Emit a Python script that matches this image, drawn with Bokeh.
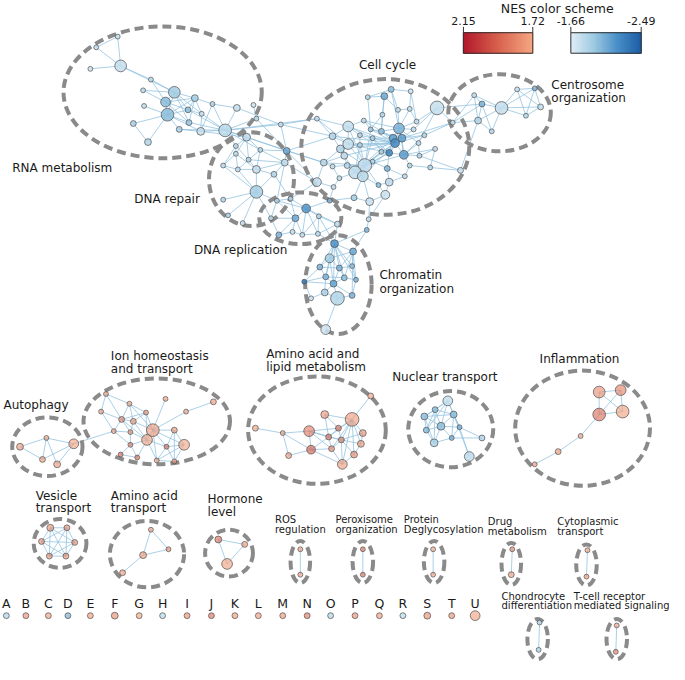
import numpy as np
from bokeh.plotting import figure
from bokeh.models import Range1d
from bokeh.embed import file_html
from bokeh.resources import INLINE
from bokeh.core.properties import value

FONT = "DejaVu Sans"

# ---------------- NES colour scale ----------------
red_nes_range = [2.15, 1.72]
blue_nes_range = [-1.66, -2.49]
red_stops = ["#f4a582", "#d6604d", "#b2182b"]          # 1.72 -> 2.15
blue_stops = ["#e1edf7", "#9ecae1", "#4a90c8", "#1f5fa6"]  # -1.66 -> -2.49

# ---------------- network nodes: (x, y, radius, NES) ----------------
rna_nodes = [
    (120, 37, 2.5, -1.78), (98, 48, 2.5, -1.8), (123, 67, 6, -1.78), (92, 70, 2.5, -1.75),
    (154, 81, 2.5, -1.82), (146, 92, 2.5, -1.82), (178, 94, 6, -1.92), (169, 104, 5, -2.0),
    (147, 108, 2.5, -1.78), (171, 117, 6.5, -2.0), (199, 100, 3.5, -1.9), (192, 112, 3, -2.0),
    (206, 116, 2.5, -1.78), (217, 106, 2.5, -1.85), (193, 125, 3, -1.95), (183, 132, 3, -1.9),
    (205, 134, 4, -1.78), (136, 126, 3, -1.9), (151, 145, 3.5, -1.85), (230, 133, 6.5, -1.82),
    (242, 110, 3.5, -1.78), (259, 107, 2.5, -1.75), (262, 121, 2.5, -1.85), (287, 127, 2.5, -1.8),
]
rna_edges = [(0, 1), (0, 2), (1, 2), (2, 3), (2, 4), (2, 6), (4, 6), (5, 6), (5, 7), (4, 7), (6, 7),
             (6, 9), (7, 9), (8, 9), (6, 10), (7, 10), (9, 10), (6, 11), (7, 11), (9, 11), (10, 11),
             (10, 12), (11, 12), (9, 14), (9, 15), (7, 14), (6, 12), (10, 13), (13, 19), (12, 19),
             (11, 19), (14, 19), (15, 16), (16, 19), (9, 16), (15, 19), (17, 9), (17, 18), (9, 18),
             (10, 14), (13, 20), (19, 20), (20, 23), (19, 22), (21, 22), (19, 23), (13, 16),
             (12, 16), (6, 14)]

rep_nodes = [
    (252, 140, 4, -1.8), (241, 149, 2.5, -1.82), (266, 153, 2.5, -1.85), (241, 157, 2.5, -1.82),
    (254, 163, 2.5, -1.85), (243, 173, 2.5, -1.8), (262, 173, 4, -1.78), (228, 169, 2.5, -1.8),
    (280, 178, 3, -1.85), (291, 166, 3.5, -1.8), (293, 154, 3.5, -2.1), (262, 196, 6.5, -1.9),
    (228, 204, 2.5, -1.85), (233, 220, 2.5, -1.9), (248, 228, 2.5, -1.78),
]
rep_edges = [(0, 1), (0, 2), (0, 3), (0, 4), (1, 3), (1, 4), (2, 4), (2, 6), (3, 5), (3, 7), (4, 6),
             (4, 5), (5, 6), (6, 8), (6, 9), (2, 10), (0, 10), (4, 9), (8, 11), (6, 11), (5, 11),
             (7, 11), (11, 12), (11, 13), (11, 14), (9, 10), (2, 9), (3, 6), (1, 7), (8, 9), (5, 7)]

repl_nodes = [
    (313, 213, 4.5, -2.2), (302, 223, 3.5, -2.1), (326, 221, 2.5, -1.85), (283, 205, 2.5, -1.9),
    (277, 223, 2.5, -1.85), (297, 203, 2.5, -1.85), (299, 237, 2.5, -1.75), (309, 240, 2.5, -1.8),
    (325, 239, 2.5, -1.8), (285, 240, 3, -2.05), (345, 229, 3, -1.78), (337, 205, 2.5, -2.05),
]
repl_edges = [(0, 1), (0, 2), (0, 3), (0, 5), (0, 7), (0, 8), (1, 3), (1, 4), (1, 6), (1, 9), (1, 7),
              (2, 8), (2, 10), (0, 11), (3, 5), (4, 9), (6, 7), (7, 8), (2, 7), (0, 10), (3, 4),
              (1, 5), (8, 10), (6, 9)]

chrom_nodes = [
    (342, 249, 4, -2.2), (361, 257, 3.5, -2.1), (337, 264, 4.5, -1.92), (327, 273, 3, -2.05),
    (347, 274, 3, -2.05), (360, 272, 2.5, -2.0), (333, 283, 3, -2.05), (352, 284, 3, -2.0),
    (364, 286, 2.5, -2.05), (311, 288, 2.5, -2.35), (341, 290, 3.5, -2.12), (332, 299, 3.5, -1.88),
    (345, 305, 7, -1.85), (360, 302, 3, -2.05), (318, 305, 2.5, -1.75), (333, 337, 5, -1.75),
    (375, 235, 2.5, -2.05), (377, 224, 2.5, -1.8),
]
chrom_edges = [(0, 1), (0, 2), (0, 3), (0, 4), (0, 5), (0, 6), (0, 7), (0, 8), (0, 10), (1, 2),
               (1, 4), (1, 5), (1, 7), (1, 8), (2, 3), (2, 4), (2, 6), (3, 6), (4, 5), (4, 7), (6, 7),
               (6, 10), (7, 8), (7, 10), (10, 11), (10, 12), (11, 12), (12, 13), (10, 13), (3, 9),
               (6, 9), (9, 10), (9, 14), (11, 14), (12, 15), (8, 13), (5, 8), (2, 10), (3, 4),
               (1, 13), (6, 11), (4, 10), (0, 16), (16, 17), (1, 16)]

cell_nodes = [
    (400, 91, 3, -2.0), (420, 93, 2.5, -1.75), (376, 99, 2.5, -1.85), (393, 98, 3.5, -2.1),
    (447, 110, 7, -1.78), (407, 112, 2.5, -1.8), (419, 111, 2.5, -1.78), (391, 117, 2.5, -1.85),
    (324, 121, 2.5, -1.8), (372, 123, 2.5, -1.82), (426, 124, 2.5, -1.8), (356, 129, 5.5, -1.78),
    (379, 132, 2.5, -1.95), (390, 134, 3, -2.0), (408, 131, 5.5, -2.05), (423, 132, 2.5, -1.8),
    (434, 138, 2.5, -1.85), (340, 139, 3.5, -1.85), (368, 138, 2.5, -1.85), (381, 141, 2.5, -1.9),
    (402, 141, 4, -2.15), (411, 141, 4, -2.15), (404, 146, 4.5, -2.25), (356, 147, 5.5, -1.78),
    (368, 148, 2.5, -1.85), (348, 152, 4, -1.85), (428, 146, 2.5, -1.82), (445, 152, 2.5, -1.8),
    (390, 155, 2.5, -1.9), (398, 156, 3.5, -2.3), (413, 158, 4.5, -2.15), (352, 159, 3.5, -1.8),
    (381, 165, 2.5, -1.9), (429, 159, 2.5, -1.85), (331, 166, 3.5, -1.85), (355, 169, 3, -1.85),
    (373, 169, 7, -1.8), (363, 176, 6.5, -1.8), (340, 170, 2.5, -1.8), (396, 172, 3, -2.05),
    (419, 169, 2.5, -1.85), (440, 171, 2.5, -1.85), (371, 180, 5.5, -1.82), (347, 182, 2.5, -1.8),
    (414, 180, 2.5, -1.8), (471, 174, 3, -1.78), (324, 186, 4.5, -1.78), (341, 191, 2.5, -1.8),
    (387, 189, 2.5, -2.0), (398, 186, 4, -1.8), (394, 199, 4.5, -1.75), (362, 202, 3, -1.9),
    (378, 206, 4, -1.75), (463, 125, 2.5, -1.82),
]
cell_edges = [(0, 3), (0, 1), (0, 5), (0, 2), (1, 6), (2, 3), (3, 7), (3, 5), (5, 6), (6, 10), (1, 10),
              (4, 10), (4, 15), (4, 26), (4, 53), (7, 12), (7, 13), (5, 14), (6, 14), (9, 12), (9, 11),
              (11, 17), (8, 11), (8, 17), (11, 18), (11, 19), (11, 23), (12, 13), (13, 14), (13, 20),
              (14, 20), (14, 21), (14, 22), (15, 21), (16, 21), (16, 30), (17, 23), (17, 25),
              (18, 23), (18, 24), (19, 20), (19, 22), (19, 28), (20, 21), (20, 22), (21, 22),
              (21, 30), (22, 29), (22, 30), (22, 28), (23, 25), (23, 24), (24, 36), (25, 31),
              (25, 34), (26, 30), (26, 33), (27, 33), (27, 41), (28, 29), (28, 36), (29, 39),
              (29, 30), (30, 33), (30, 40), (31, 35), (31, 34), (32, 36), (32, 39), (34, 38),
              (34, 46), (35, 36), (35, 37), (36, 37), (36, 42), (37, 42), (37, 43), (38, 43),
              (39, 44), (39, 49), (40, 44), (41, 45), (33, 45), (42, 48), (42, 51), (42, 52),
              (43, 47), (46, 47), (48, 49), (48, 50), (49, 50), (50, 52), (51, 52), (36, 48),
              (19, 36), (23, 36), (24, 37), (11, 36), (13, 22), (12, 22), (9, 20), (18, 22),
              (31, 37), (14, 30), (21, 29), (20, 29), (25, 36), (32, 29), (35, 42), (26, 14),
              (10, 14), (16, 22), (15, 14), (27, 30), (44, 49), (40, 41), (22, 36), (20, 37),
              (12, 36), (18, 29), (24, 22), (23, 22), (53, 16), (53, 21), (11, 22), (17, 22),
              (23, 29), (25, 22), (31, 22), (36, 30), (37, 29), (42, 22), (9, 14), (12, 21),
              (2, 12), (3, 13), (0, 14), (8, 23), (34, 36), (38, 35), (19, 29), (28, 37)]

cent_nodes = [
    (485, 97, 2.5, -1.8), (493, 106, 3, -2.05), (513, 110, 6.5, -1.78), (529, 91, 2.5, -1.78),
    (547, 90, 2.5, -2.05), (553, 109, 3, -1.78), (538, 118, 2.5, -1.82), (489, 123, 3.5, -1.85),
    (503, 134, 2.5, -1.85),
]
cent_edges = [(0, 1), (0, 2), (1, 2), (1, 7), (2, 7), (2, 3), (2, 4), (2, 5), (2, 6), (3, 4), (3, 5),
              (4, 5), (4, 6), (5, 6), (3, 6), (7, 8), (2, 8), (1, 8), (0, 7)]

ion_nodes = [
    (108, 403, 2.5, 1.76), (132, 413, 2.5, 1.74), (169, 408, 2.5, 1.76), (218, 411, 3, 1.76),
    (190, 421, 2.5, 1.76), (103, 421, 2.5, 1.76), (149, 422, 2.5, 1.8), (124, 429, 3, 1.82),
    (136, 431, 3, 1.76), (156, 440, 6.5, 1.76), (116, 441, 2.5, 1.76), (133, 442, 2.5, 1.8),
    (178, 440, 3, 1.76), (150, 450, 5.5, 1.74), (188, 455, 5.5, 1.73), (133, 455, 2.5, 1.85),
    (170, 457, 2.5, 1.9), (123, 465, 2.5, 1.92), (140, 468, 2.5, 1.92), (160, 471, 2.5, 1.76),
    (178, 472, 2.5, 1.76),
]
ion_edges = [(0, 1), (0, 5), (0, 7), (1, 6), (1, 7), (1, 8), (1, 9), (5, 7), (5, 10), (6, 7), (6, 8),
             (6, 9), (7, 8), (7, 10), (7, 11), (8, 9), (8, 11), (8, 13), (9, 2), (9, 4), (4, 3),
             (9, 12), (9, 13), (9, 16), (9, 14), (12, 14), (12, 16), (13, 15), (13, 16), (13, 18),
             (13, 19), (14, 16), (14, 19), (14, 20), (16, 19), (16, 20), (10, 11), (11, 15),
             (15, 17), (15, 18), (17, 18), (10, 15), (11, 13), (19, 20), (9, 19), (12, 20),
             (7, 13), (6, 13)]

auto_nodes = [(20, 457, 3.5, 1.76), (47, 448, 2.5, 1.74), (75, 454, 5, 1.74), (43, 470, 3, 1.76),
              (58, 475, 3.5, 1.76)]
auto_edges = [(0, 1), (0, 3), (1, 2), (1, 3), (1, 4), (2, 3), (2, 4)]

aal_nodes = [
    (379, 405, 3, 1.74), (332, 424, 4, 1.78), (360, 429, 7, 1.76), (261, 438, 3, 1.74),
    (289, 443, 2.5, 1.76), (316, 441, 5.5, 1.86), (346, 438, 3, 1.9), (371, 443, 3.5, 1.8),
    (336, 447, 3, 1.9), (349, 450, 3, 1.85), (369, 454, 3.5, 1.78), (318, 460, 4.5, 1.96),
    (339, 459, 3, 1.82), (362, 465, 3.5, 1.82), (295, 466, 3, 1.76), (350, 475, 5, 1.76),
]
aal_edges = [(0, 2), (1, 2), (1, 6), (1, 8), (2, 6), (2, 7), (2, 9), (2, 8), (2, 10), (2, 12), (2, 13),
             (3, 4), (4, 5), (4, 11), (4, 14), (5, 8), (5, 11), (5, 6), (5, 9), (6, 9), (7, 9), (8, 9),
             (8, 11), (8, 12), (9, 10), (9, 12), (9, 13), (10, 13), (11, 12), (11, 14), (12, 15),
             (13, 15), (9, 15), (11, 15), (6, 8), (7, 10), (2, 15), (5, 12)]

nuc_nodes = [
    (458, 410, 5, -1.78), (445, 419, 3, -2.0), (464, 424, 3.5, -2.0), (434, 426, 3.5, -1.98),
    (451, 436, 4, -1.98), (470, 437, 2.5, -2.05), (436, 440, 3, -2.0), (462, 448, 2.5, -2.05),
    (493, 448, 3, -1.85), (444, 453, 4, -1.88), (480, 467, 5, -1.8),
]
nuc_edges = [(0, 1), (0, 2), (0, 3), (0, 4), (0, 6), (1, 2), (1, 3), (1, 4), (1, 6), (2, 4), (2, 5),
             (2, 3), (3, 4), (3, 6), (4, 5), (4, 6), (4, 7), (4, 9), (5, 7), (5, 8), (6, 9), (7, 9),
             (7, 8), (2, 10), (5, 10), (1, 9), (3, 9), (2, 7), (0, 5)]

infl_nodes = [(613, 401, 6, 1.8), (635, 399, 5.5, 1.84), (613, 424, 6.5, 1.9), (637, 421, 6.5, 1.74),
              (594, 446, 2.5, 1.74), (571, 462, 3, 1.76), (547, 475, 2.5, 1.76)]
infl_edges = [(0, 1), (0, 2), (0, 3), (1, 2), (1, 3), (2, 3), (2, 4), (4, 5), (5, 6)]

ves_nodes = [(51, 540, 3.5, 1.78), (68, 540, 3, 1.8), (42, 554, 3, 1.8), (76, 555, 3, 1.8),
             (50, 569, 3, 1.8), (67, 569, 3, 1.8)]
ves_edges = [(0, 1), (0, 2), (0, 3), (0, 4), (0, 5), (1, 2), (1, 3), (1, 4), (1, 5), (2, 3), (2, 4),
             (2, 5), (3, 4), (3, 5), (4, 5)]

aat_nodes = [(154, 542, 2.5, 1.76), (172, 562, 2.5, 1.8), (146, 568, 3.5, 1.76), (125, 586, 3, 1.76)]
aat_edges = [(0, 1), (0, 2), (1, 2), (2, 3)]

horm_nodes = [(223, 552, 3.5, 1.9), (250, 557, 3, 1.76), (232, 577, 5.5, 1.74)]
horm_edges = [(0, 1), (0, 2), (1, 2)]

ros_nodes = [(307, 562, 2.5, 1.76), (307, 588, 2.5, 1.76)]
perox_nodes = [(371, 562, 2.5, 1.92), (371, 588, 2.5, 1.92)]
degly_nodes = [(443, 562, 2.5, 1.74), (443, 588, 2.5, 1.76)]
drug_nodes = [(524, 562, 2.5, 1.84), (523, 588, 3, 1.76)]
cyto_nodes = [(601, 563, 2.5, 1.76), (600, 590, 2.5, 1.8)]
chondro_nodes = [(552, 637, 2.5, -1.85), (551, 665, 2.5, -1.85)]
tcell_nodes = [(631, 640, 2.5, 1.76), (630, 667, 2.5, 1.86)]
pair_edges = [(0, 1)]

cross_edges = [
    ("rna", 19, "rep", 0), ("rna", 19, "rep", 1), ("rna", 19, "rep", 2), ("rna", 16, "rep", 0),
    ("rna", 19, "cell", 8), ("rna", 23, "cell", 8), ("rna", 23, "cell", 17), ("rna", 22, "rep", 10),
    ("rna", 23, "rep", 10), ("rna", 19, "cell", 34),
    ("rep", 11, "repl", 3), ("rep", 11, "repl", 4), ("rep", 8, "repl", 5), ("rep", 9, "repl", 3),
    ("rep", 10, "cell", 17), ("rep", 10, "cell", 34), ("rep", 10, "cell", 46), ("rep", 9, "cell", 46),
    ("repl", 11, "cell", 47), ("repl", 11, "cell", 51), ("repl", 5, "cell", 46),
    ("repl", 10, "chrom", 0), ("repl", 8, "chrom", 0), ("repl", 2, "chrom", 0),
    ("chrom", 17, "cell", 52), ("chrom", 17, "cell", 50),
    ("cell", 53, "cent", 0), ("cell", 53, "cent", 1), ("cell", 53, "cent", 7), ("cell", 4, "cent", 1),
    ("cell", 45, "cent", 7), ("auto", 2, "ion", 10),
]

# ---------------- cluster outlines: (centre x, centre y, width, height) ----------------
outline_cx = [166, 257, 307, 394, 511, 346, 48, 160, 324, 461, 596, 61, 150, 234,
              307, 371, 444, 523, 600, 550, 631]
outline_cy = [94, 183, 223, 150, 115, 291, 457, 431, 440, 439, 438, 556, 567, 566,
              575, 575, 575, 577, 578, 654, 654]
outline_w = [203, 87, 84, 172, 105, 68, 72, 150, 141, 87, 138, 54, 76, 49,
             20, 21, 21, 20, 21, 21, 21]
outline_h = [135, 96, 53, 139, 79, 101, 60, 88, 110, 78, 118, 50, 68, 48,
             43, 43, 43, 43, 42, 41, 41]

# ---------------- labels ----------------
big_label_text = ["Cell cycle", "Centrosome", "organization", "RNA metabolism", "DNA repair",
                  "DNA replication", "Chromatin", "organization", "Autophagy", "Ion homeostasis",
                  "and transport", "Amino acid and", "lipid metabolism", "Nuclear transport",
                  "Inflammation", "Vesicle", "transport", "Amino acid", "transport", "Hormone",
                  "level"]
big_label_x = [367, 564, 564, 12, 137, 198, 388, 388, 3, 113, 113, 272, 272, 401, 552, 36, 36,
               113, 113, 212, 212]
big_label_y = [66, 87, 100, 172, 203, 256, 281, 295, 414, 364, 377, 362, 375, 386, 367, 507, 520,
               507, 520, 511, 524]

small_label_text = ["ROS", "regulation", "Peroxisome", "organization", "Protein", "Deglycosylation",
                    "Drug", "metabolism", "Cytoplasmic", "transport", "Chondrocyte",
                    "differentiation", "T-cell receptor", "mediated signaling"]
small_label_x = [281, 281, 343, 343, 413, 413, 499, 499, 570, 570, 513, 513, 587, 587]
small_label_y = [532, 542, 532, 542, 532, 542, 534, 544, 534, 544, 610, 620, 610, 620]

# ---------------- unconnected gene sets A-U ----------------
single_letters = list("ABCDEFGHIJKLMNOPQRSTU")
single_x = [6, 26, 49, 69, 92, 117, 142, 166, 191, 216, 240, 264, 289, 314, 338, 363, 388, 412,
            437, 462, 486]
single_nes = [-1.82, 1.8, 1.76, -1.98, 1.76, 1.8, 1.74, -1.78, 1.8, 1.9, 1.76, 1.76, 1.78, 1.88,
              -1.8, 1.8, 1.77, -1.78, 1.8, 1.8, 1.74]
single_r = [3, 3, 3, 3, 3, 3.5, 3, 3, 3, 3, 3, 3, 3, 3, 3, 3, 3, 3, 3.5, 3, 5]


# ---------------- helpers ----------------
def hex2rgb(h):
    return tuple(int(h[i:i + 2], 16) for i in (1, 3, 5))


def interp(stops, t):
    t = min(max(t, 0.0), 1.0)
    n = len(stops) - 1
    k = min(int(t * n), n - 1)
    f = t * n - k
    a, b = hex2rgb(stops[k]), hex2rgb(stops[k + 1])
    return "#%02x%02x%02x" % tuple(int(round(a[m] + (b[m] - a[m]) * f)) for m in range(3))


def nes_color(v):
    if v > 0:
        return interp(red_stops, (v - red_nes_range[1]) / (red_nes_range[0] - red_nes_range[1]))
    return interp(blue_stops, (v - blue_nes_range[0]) / (blue_nes_range[1] - blue_nes_range[0]))


def nes_alpha(v):
    return 0.62 if v > 0 else 0.85


cluster_nodes = {
    "rna": rna_nodes, "rep": rep_nodes, "repl": repl_nodes, "chrom": chrom_nodes,
    "cell": cell_nodes, "cent": cent_nodes, "ion": ion_nodes, "auto": auto_nodes,
    "aal": aal_nodes, "nuc": nuc_nodes, "infl": infl_nodes, "ves": ves_nodes,
    "aat": aat_nodes, "horm": horm_nodes, "ros": ros_nodes, "perox": perox_nodes,
    "degly": degly_nodes, "drug": drug_nodes, "cyto": cyto_nodes, "chondro": chondro_nodes,
    "tcell": tcell_nodes,
}
cluster_edges = {
    "rna": rna_edges, "rep": rep_edges, "repl": repl_edges, "chrom": chrom_edges,
    "cell": cell_edges, "cent": cent_edges, "ion": ion_edges, "auto": auto_edges,
    "aal": aal_edges, "nuc": nuc_edges, "infl": infl_edges, "ves": ves_edges,
    "aat": aat_edges, "horm": horm_edges, "ros": pair_edges, "perox": pair_edges,
    "degly": pair_edges, "drug": pair_edges, "cyto": pair_edges, "chondro": pair_edges,
    "tcell": pair_edges,
}

# ---------------- figure ----------------
p = figure(width=669, height=664, x_range=Range1d(0, 685), y_range=Range1d(680, 0),
           output_backend="svg", toolbar_location=None, min_border=0)
p.axis.visible = False
p.grid.visible = False
p.outline_line_color = None
p.background_fill_color = "white"
p.border_fill_color = "white"

# edges
ex0, ey0, ex1, ey1 = [], [], [], []
for key, edges in cluster_edges.items():
    nodes = cluster_nodes[key]
    for i, j in edges:
        ex0.append(nodes[i][0]); ey0.append(nodes[i][1])
        ex1.append(nodes[j][0]); ey1.append(nodes[j][1])
for a, i, b, j in cross_edges:
    ex0.append(cluster_nodes[a][i][0]); ey0.append(cluster_nodes[a][i][1])
    ex1.append(cluster_nodes[b][j][0]); ey1.append(cluster_nodes[b][j][1])
p.segment(ex0, ey0, ex1, ey1, line_color="#8ec0df", line_width=1, line_alpha=0.75)

# cluster outlines
p.ellipse(outline_cx, outline_cy, width=outline_w, height=outline_h, fill_color=None,
          line_color="#8a8a8a", line_width=4, line_dash="9 5")

# nodes
nx, ny, nr, nc, na = [], [], [], [], []
for key, nodes in cluster_nodes.items():
    for x, y, r, v in nodes:
        nx.append(x); ny.append(y); nr.append(r); nc.append(nes_color(v)); na.append(nes_alpha(v))
p.circle(nx, ny, radius=nr, fill_color=nc, fill_alpha=na, line_color="#4a4a4a",
         line_width=0.8, line_alpha=0.85)

# singletons
p.circle(single_x, [630] * len(single_x), radius=single_r,
         fill_color=[nes_color(v) for v in single_nes],
         fill_alpha=[nes_alpha(v) for v in single_nes],
         line_color="#4a4a4a", line_width=0.8, line_alpha=0.85)
p.text(single_x, [618] * len(single_x), text=single_letters, text_font=value(FONT),
       text_font_size="12.5px", text_align="center", text_baseline="middle", text_color="#1a1a1a")

# labels
p.text(big_label_x, big_label_y, text=big_label_text, text_font=value(FONT),
       text_font_size="12px", text_align="left", text_baseline="middle", text_color="#1a1a1a")
p.text(small_label_x, small_label_y, text=small_label_text, text_font=value(FONT),
       text_font_size="10px", text_align="left", text_baseline="middle", text_color="#1a1a1a")

# colour legend
n_steps = 60
for (x0, x1), (v0, v1) in (((474, 545), (red_nes_range[0], red_nes_range[1])),
                           ((584, 656), (blue_nes_range[0], blue_nes_range[1]))):
    edges_x = np.linspace(x0, x1, n_steps + 1)
    vals = np.linspace(v0, v1, n_steps)
    cols = [nes_color(v) for v in vals]
    p.quad(left=edges_x[:-1], right=edges_x[1:], top=33, bottom=54,
           fill_color=cols, line_color=cols, line_width=1.2)
    p.quad(left=[x0], right=[x1], top=[33], bottom=[54], fill_color=None,
           line_color="#333333", line_width=1)
    p.segment([x0, x1], [27, 27], [x0, x1], [33, 33], line_color="#333333", line_width=1)
    p.text([x0, x1], [21, 21], text=["%.2f" % v0, "%.2f" % v1], text_font=value(FONT),
           text_font_size="11px", text_align="center", text_baseline="middle",
           text_color="#1a1a1a")
p.text([570], [8], text=["NES color scheme"], text_font=value(FONT), text_font_size="12.5px",
       text_align="center", text_baseline="middle", text_color="#1a1a1a")

open("out.html", "w").write(file_html(p, INLINE))
